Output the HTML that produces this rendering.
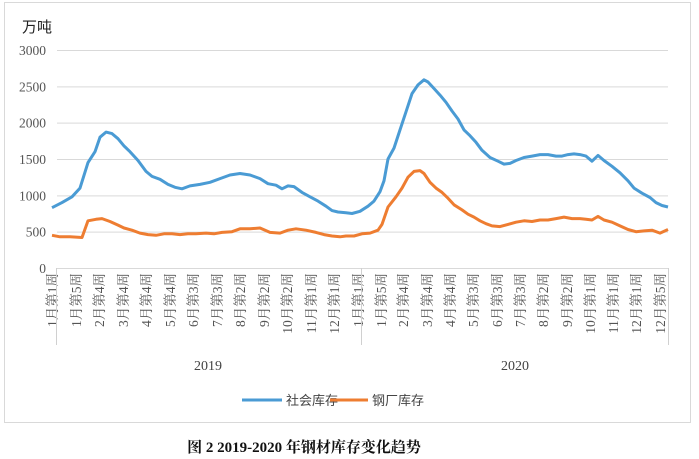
<!DOCTYPE html>
<html><head><meta charset="utf-8"><style>
body{margin:0;background:#fff;width:699px;height:459px;overflow:hidden;font-family:"Liberation Serif","Noto Serif CJK SC",serif}
</style></head><body>
<svg id="s" width="699" height="459" xmlns="http://www.w3.org/2000/svg" style="position:absolute;left:0;top:0">
<rect x="4.5" y="2.5" width="686" height="420" fill="none" stroke="#d9d9d9"/>
<text x="22" y="32" font-family="Liberation Sans,'Noto Sans CJK SC',sans-serif" font-size="15" fill="#222">万吨</text>
<g id="grid" stroke="#d9d9d9" stroke-width="1"></g>
<g id="yl" font-size="13.5" fill="#555" text-anchor="end"></g>
<g id="xl" font-size="13.5" fill="#555"></g>
<line x1="56.5" y1="268" x2="56.5" y2="345" stroke="#d0d0d0"/>
<line x1="361.5" y1="268" x2="361.5" y2="345" stroke="#d0d0d0"/>
<line x1="668.5" y1="268" x2="668.5" y2="345" stroke="#d0d0d0"/>
<text x="208" y="370" font-size="14" fill="#444" text-anchor="middle">2019</text>
<text x="515" y="370" font-size="14" fill="#444" text-anchor="middle">2020</text>
<polyline id="b" fill="none" stroke="#4a9bd4" stroke-width="3" stroke-linejoin="round"/>
<polyline id="o" fill="none" stroke="#ee7d31" stroke-width="3" stroke-linejoin="round"/>
<line x1="242" y1="400" x2="282" y2="400" stroke="#4a9bd4" stroke-width="3"/>
<text x="286" y="405" font-size="13" fill="#444" font-family="Liberation Sans,'Noto Sans CJK SC',sans-serif">社会库存</text>
<line x1="330" y1="400" x2="368" y2="400" stroke="#ee7d31" stroke-width="3"/>
<text x="372" y="405" font-size="13" fill="#444" font-family="Liberation Sans,'Noto Sans CJK SC',sans-serif">钢厂库存</text>
<text x="304" y="452" font-size="15" font-weight="bold" fill="#111" text-anchor="middle">图 2 2019-2020 年钢材库存变化趋势</text>
</svg>
<script>
var Y=function(v){return 268-v*218/3000};
var g=document.getElementById('grid'),yl=document.getElementById('yl'),ns='http://www.w3.org/2000/svg';
for(var v=0;v<=3000;v+=500){var l=document.createElementNS(ns,'line');l.setAttribute('x1',57);l.setAttribute('x2',668);l.setAttribute('y1',Y(v)+.5);l.setAttribute('y2',Y(v)+.5);g.appendChild(l);
var t=document.createElementNS(ns,'text');t.setAttribute('x',46);t.setAttribute('y',Y(v)+5);t.textContent=v;yl.appendChild(t);}
var labs=[[52,'1月第1周'],[76,'1月第5周'],[99,'2月第4周'],[123,'3月第4周'],[146,'4月第4周'],[170,'5月第4周'],[193,'6月第3周'],[217,'7月第3周'],[240,'8月第2周'],[264,'9月第2周'],[287,'10月第2周'],[311,'11月第1周'],[334,'12月第1周'],[358,'1月第1周'],[381,'1月第5周'],[403,'2月第4周'],[427,'3月第4周'],[450,'4月第4周'],[473,'5月第3周'],[497,'6月第3周'],[520,'7月第3周'],[543,'8月第2周'],[567,'9月第2周'],[590,'10月第1周'],[613,'11月第1周'],[636,'12月第1周'],[660,'12月第5周']];
var xl=document.getElementById('xl');
labs.forEach(function(a){var t=document.createElementNS(ns,'text');t.setAttribute('text-anchor','end');t.setAttribute('transform','translate('+(a[0]+5)+',273) rotate(-90)');t.textContent=a[1];xl.appendChild(t);});
var B=[52,830,62,900,72,980,80,1100,88,1450,95,1600,100,1800,106,1870,112,1850,118,1780,124,1680,130,1600,138,1480,146,1330,152,1260,160,1220,168,1150,175,1110,182,1090,190,1130,200,1150,210,1180,220,1230,230,1280,240,1300,250,1280,260,1230,268,1160,276,1140,282,1090,288,1130,294,1120,302,1040,310,980,318,920,326,850,332,790,338,770,346,760,352,750,360,780,368,850,374,920,380,1050,384,1200,388,1500,394,1650,400,1900,406,2150,412,2400,418,2520,424,2590,428,2560,434,2470,440,2380,446,2280,452,2160,458,2050,464,1900,470,1820,476,1730,482,1620,490,1520,498,1470,504,1430,510,1440,516,1480,524,1520,532,1540,540,1560,548,1560,556,1540,562,1540,568,1560,574,1570,580,1560,586,1540,592,1470,598,1550,604,1480,612,1400,620,1310,628,1200,634,1100,642,1030,650,970,656,900,662,860,668,840];
var O=[52,450,60,430,70,430,82,420,88,650,96,670,102,680,110,640,118,590,124,550,132,520,140,480,148,460,156,450,164,470,172,470,180,460,188,470,196,470,206,480,214,470,222,490,232,500,240,540,250,540,260,550,270,490,280,480,288,520,296,540,306,520,316,490,324,460,332,440,340,430,346,440,354,440,362,470,370,480,378,520,382,600,388,840,396,980,402,1100,408,1250,414,1330,420,1340,424,1300,430,1180,436,1100,442,1040,448,960,454,870,462,800,468,740,474,700,480,650,486,610,492,580,500,570,508,600,516,630,524,650,532,640,540,660,548,660,556,680,564,700,572,680,580,680,586,670,592,660,598,710,604,660,612,630,620,580,628,530,636,500,644,510,652,520,660,480,668,530];
function P(a){var s=[];for(var i=0;i<a.length;i+=2)s.push(a[i]+','+Y(a[i+1]).toFixed(1));return s.join(' ');}
document.getElementById('b').setAttribute('points',P(B));
document.getElementById('o').setAttribute('points',P(O));
</script>
</body></html>
